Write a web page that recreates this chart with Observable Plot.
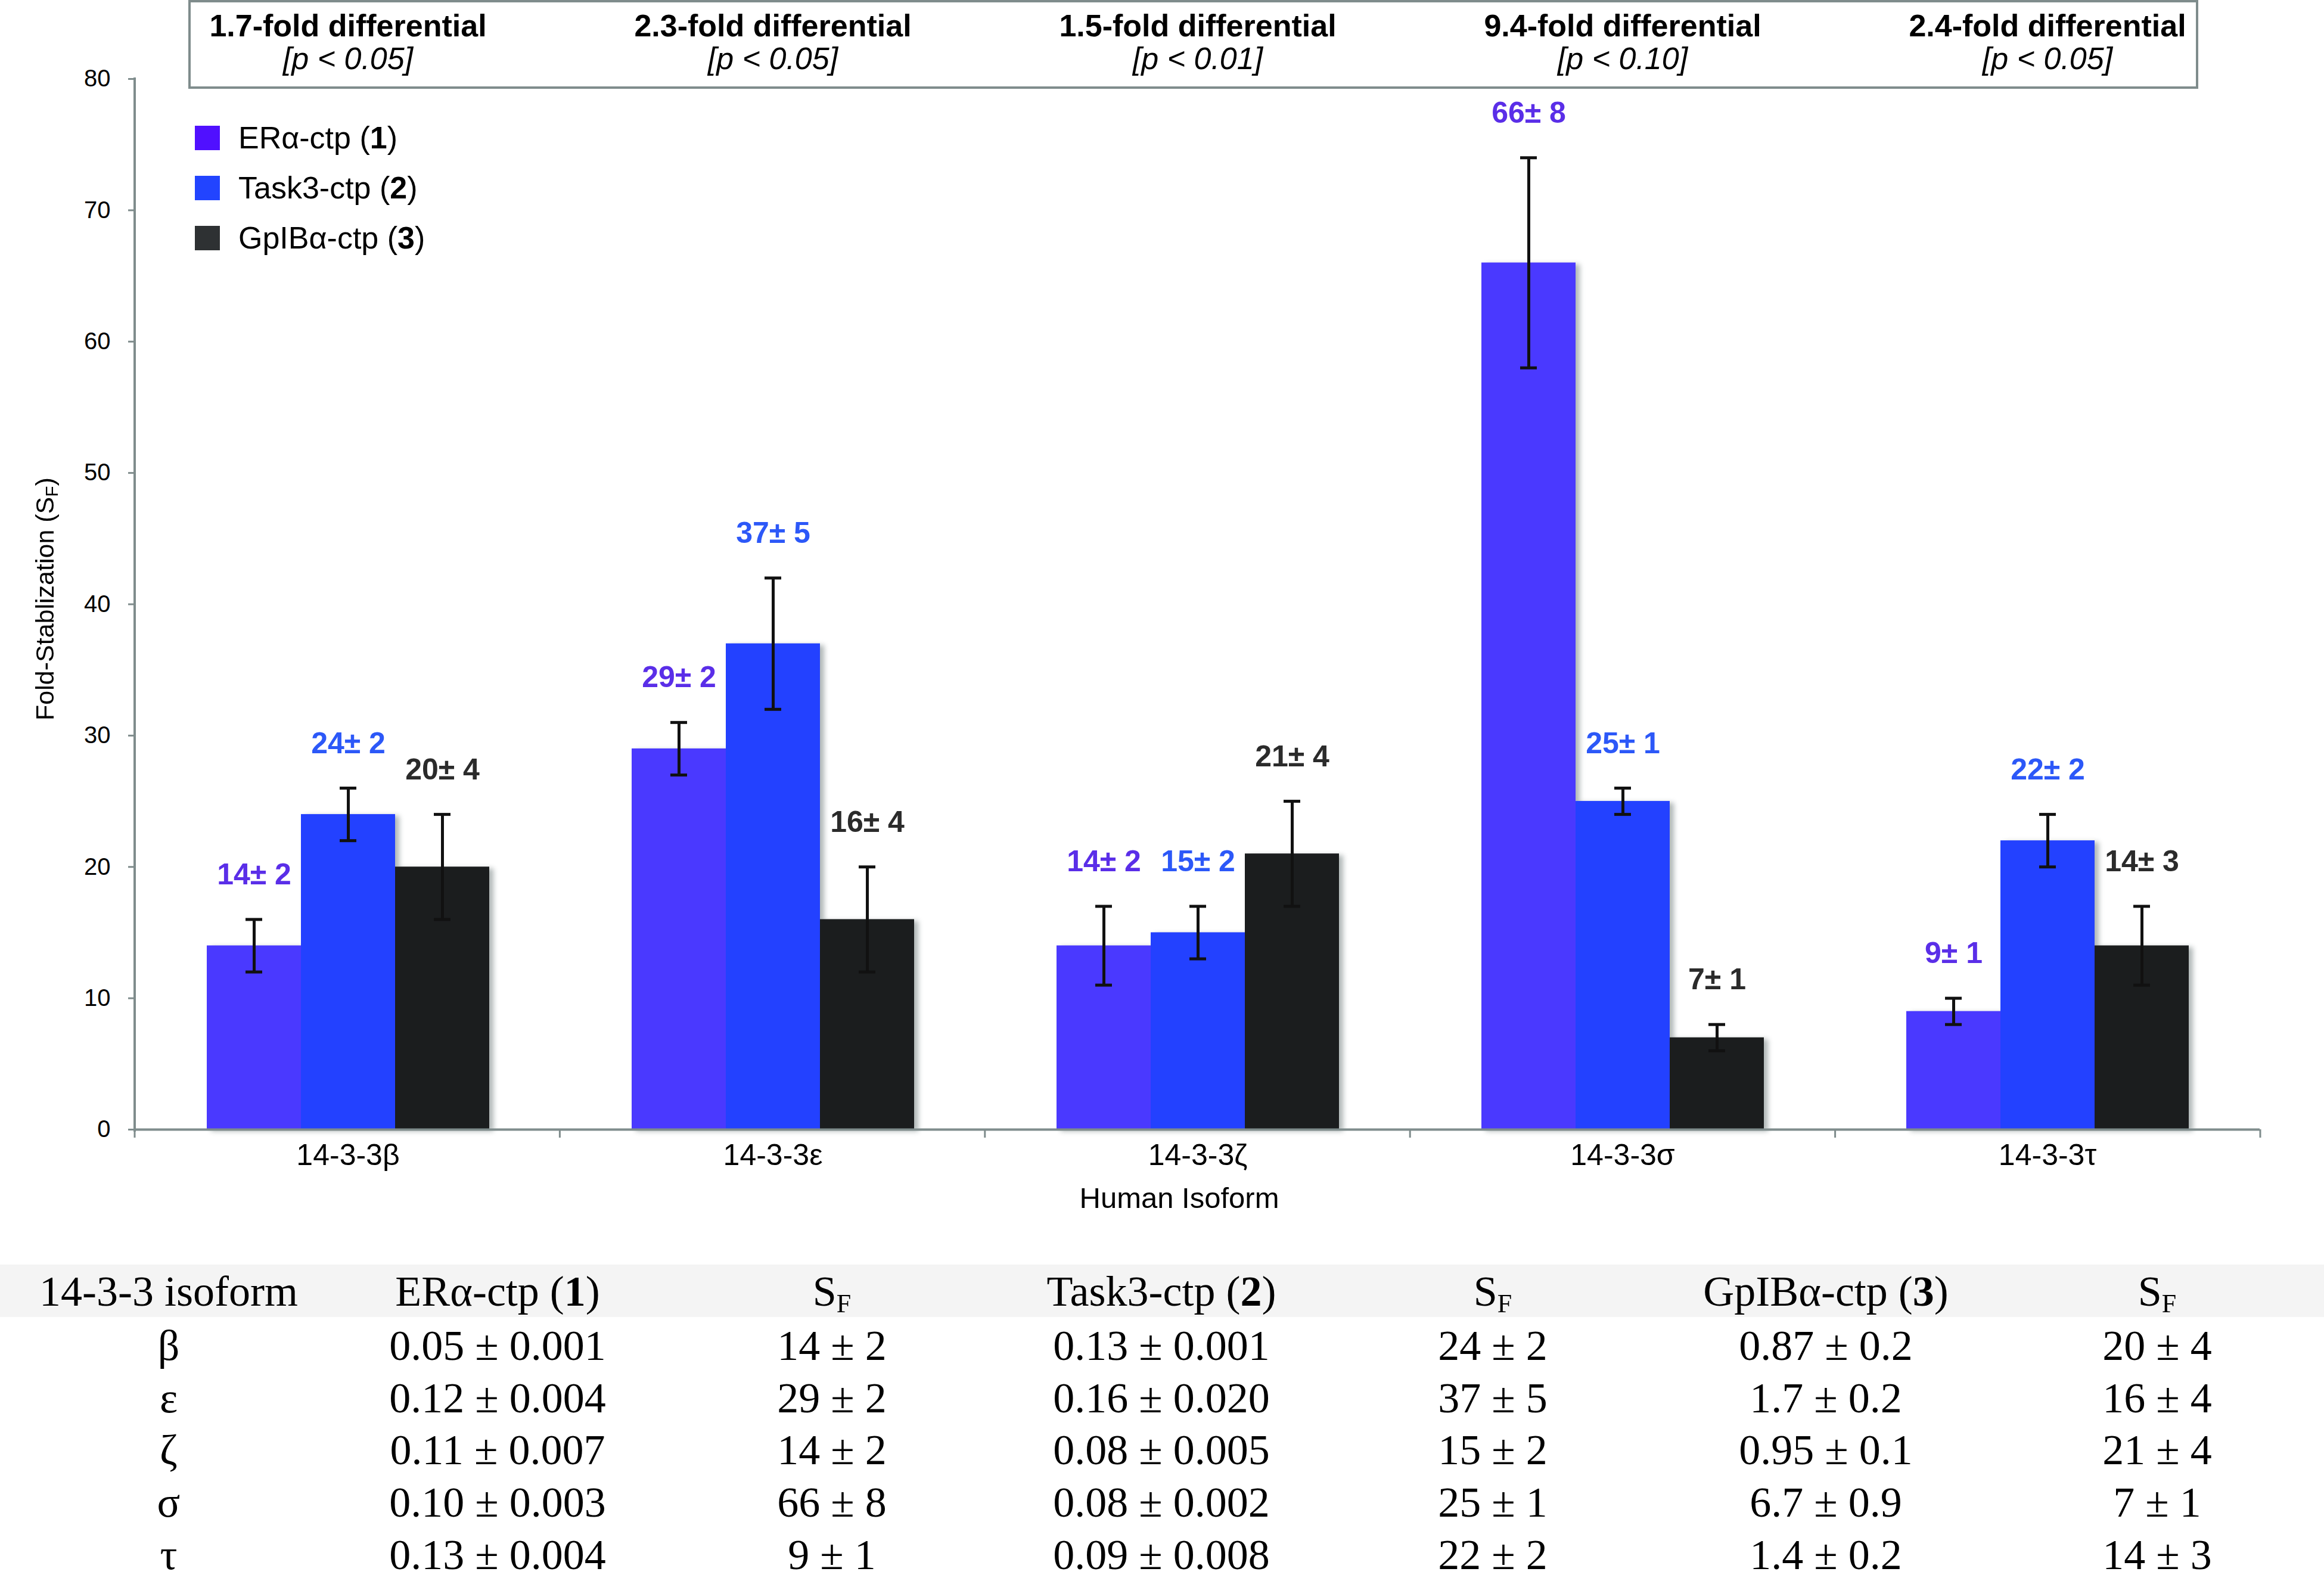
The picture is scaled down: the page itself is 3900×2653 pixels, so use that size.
<!DOCTYPE html>
<html><head><meta charset="utf-8">
<script src="https://cdn.jsdelivr.net/npm/d3@7"></script>
<script src="https://cdn.jsdelivr.net/npm/@observablehq/plot@0.6"></script>
<style>
html,body{margin:0;padding:0;background:#fff;}
#wrap{position:relative;width:3900px;height:2653px;overflow:hidden;background:#fff;}
#wrap > svg{position:absolute;left:0;top:0;}
g[aria-label="bar"]{filter: drop-shadow(7px 3px 4px rgba(80,95,95,0.45));}
</style></head><body><div id="wrap"></div>
<script>
// ---------- data ----------
const isoforms = ["14-3-3β", "14-3-3ε", "14-3-3ζ", "14-3-3σ", "14-3-3τ"];
const greek = ["β", "ε", "ζ", "σ", "τ"];
const series = ["ERα-ctp (1)", "Task3-ctp (2)", "GpIBα-ctp (3)"];
const seriesName = ["ERα-ctp", "Task3-ctp", "GpIBα-ctp"];
const seriesNum = ["1", "2", "3"];

const erValues = [14, 29, 14, 66, 9];
const erSd = [2, 2, 2, 8, 1];          // reported in labels / table
const erBar = [2, 2, 3, 8, 1];         // error bar half-length as drawn
const task3Values = [24, 37, 15, 25, 22];
const task3Sd = [2, 5, 2, 1, 2];
const task3Bar = [2, 5, 2, 1, 2];
const gpValues = [20, 16, 21, 7, 14];
const gpSd = [4, 4, 4, 1, 3];
const gpBar = [4, 4, 4, 1, 3];

const foldText = ["1.7-fold differential", "2.3-fold differential", "1.5-fold differential", "9.4-fold differential", "2.4-fold differential"];
const pText = ["[p < 0.05]", "[p < 0.05]", "[p < 0.01]", "[p < 0.10]", "[p < 0.05]"];

const erKd = ["0.05 ± 0.001", "0.12 ± 0.004", "0.11 ± 0.007", "0.10 ± 0.003", "0.13 ± 0.004"];
const task3Kd = ["0.13 ± 0.001", "0.16 ± 0.020", "0.08 ± 0.005", "0.08 ± 0.002", "0.09 ± 0.008"];
const gpKd = ["0.87 ± 0.2", "1.7 ± 0.2", "0.95 ± 0.1", "6.7 ± 0.9", "1.4 ± 0.2"];

const yTicks = [0, 10, 20, 30, 40, 50, 60, 70, 80];

// ---------- styles ----------
const barColors = ["#4a39ff", "#2341ff", "#1b1d1e"];
const legendColors = ["#5010ff", "#2244ff", "#2e3133"];
const labelColors = ["#5a2ee8", "#2c58f8", "#2b2b2b"];
const axisGray = "#7f8c8c";
const sans = "'Liberation Sans', Arial, Helvetica, sans-serif";
const serif = "'Liberation Serif', 'Times New Roman', Times, serif";

// ---------- build tables ----------
const valuesBy = [erValues, task3Values, gpValues];
const sdBy = [erSd, task3Sd, gpSd];
const barBy = [erBar, task3Bar, gpBar];
const rows = [];
isoforms.forEach((iso, i) => {
  series.forEach((s, j) => {
    rows.push({isoform: iso, series: s, si: j, value: valuesBy[j][i], bar: barBy[j][i],
      label: `${valuesBy[j][i]}± ${sdBy[j][i]}`});
  });
});
const headers = isoforms.map((iso, i) => ({isoform: iso, fold: foldText[i], p: pText[i]}));

const chart = Plot.plot({
  width: 3900,
  height: 2060,
  marginLeft: 226,
  marginRight: 107,
  marginTop: 132,
  marginBottom: 165,
  style: {fontFamily: sans, fontSize: "40px", color: "#000", background: "none", overflow: "visible"},
  fx: {domain: isoforms, padding: 0},
  x: {domain: series, paddingInner: 0, paddingOuter: 0.743, axis: null},
  y: {domain: [0, 80]},
  color: {domain: series, range: barColors},
  marks: [
    Plot.barY(rows, {fx: "isoform", x: "series", y: "value", fill: "series"}),
    Plot.ruleY([0], {stroke: axisGray, strokeWidth: 4}),
    Plot.ruleX(rows, {fx: "isoform", x: "series", y1: d => d.value - d.bar, y2: d => d.value + d.bar, stroke: "#111", strokeWidth: 5}),
    Plot.tickY(rows, {fx: "isoform", x: "series", y: d => d.value - d.bar, stroke: "#111", strokeWidth: 5, insetLeft: 65, insetRight: 65}),
    Plot.tickY(rows, {fx: "isoform", x: "series", y: d => d.value + d.bar, stroke: "#111", strokeWidth: 5, insetLeft: 65, insetRight: 65}),
    ...series.map((s, j) => Plot.text(rows.filter(d => d.si === j), {
      fx: "isoform", x: "series", y: d => d.value + d.bar, text: "label", dy: -75,
      fill: labelColors[j], fontSize: 50, fontWeight: "bold"})),
    Plot.text(headers, {fx: "isoform", text: "fold", frameAnchor: "top", lineAnchor: "middle", dy: -88, fontSize: 52, fontWeight: "bold", fill: "#000"}),
    Plot.text(headers, {fx: "isoform", text: "p", frameAnchor: "top", lineAnchor: "middle", dy: -33, fontSize: 52, fontStyle: "italic", fill: "#000"}),
    Plot.axisY({ticks: yTicks, tickSize: 12, tickPadding: 30, stroke: axisGray, strokeWidth: 3, fill: "#000", fontSize: 40, label: null}),
    Plot.axisFx({anchor: "bottom", tickSize: 0, tickPadding: 24, fontSize: 50, fill: "#000", label: null})
  ]
});
const wrap = document.getElementById("wrap");
wrap.appendChild(chart);

// ---------- overlay (axis line, separators, legend, header box, axis titles, table) ----------
const fxS = chart.scale("fx");
const yS = chart.scale("y");
const fxScale = d3.scaleBand().domain(fxS.domain).range(fxS.range).paddingInner(fxS.paddingInner || 0).paddingOuter(fxS.paddingOuter || 0);
const yScale = d3.scaleLinear().domain(yS.domain).range(yS.range);

const svg = d3.select(wrap).append("svg")
  .attr("width", 3900).attr("height", 2653)
  .style("font-family", sans);

// header box
svg.append("rect").attr("x", 318).attr("y", 2).attr("width", 3369).attr("height", 145)
  .attr("fill", "none").attr("stroke", axisGray).attr("stroke-width", 4);

// y axis line
const x0 = fxScale.range()[0];
svg.append("line").attr("x1", x0).attr("x2", x0).attr("y1", yScale(80) - 2).attr("y2", yScale(0) + 4)
  .attr("stroke", axisGray).attr("stroke-width", 4);
// category separators
const edges = fxScale.domain().map(d => fxScale(d)).concat([fxScale(fxScale.domain().at(-1)) + fxScale.bandwidth()]);
svg.selectAll("line.sep").data(edges).join("line").attr("class", "sep")
  .attr("x1", d => d).attr("x2", d => d).attr("y1", yScale(0)).attr("y2", yScale(0) + 14)
  .attr("stroke", axisGray).attr("stroke-width", 3);

// x axis title
svg.append("text").attr("x", 1979).attr("y", 2027).attr("text-anchor", "middle")
  .attr("font-size", 49).attr("fill", "#000").text("Human Isoform");

// y axis label
const yl = svg.append("text").attr("transform", "translate(90,1005) rotate(-90)")
  .attr("text-anchor", "middle").attr("font-size", 43).attr("fill", "#000");
yl.append("tspan").text("Fold-Stablization (S");
yl.append("tspan").attr("font-size", 30).attr("dy", 7).text("F");
yl.append("tspan").attr("dy", -7).text(")");

// legend
const legY = [232, 316, 400];
series.forEach((s, j) => {
  svg.append("rect").attr("x", 327).attr("y", legY[j] - 21).attr("width", 42).attr("height", 41).attr("fill", legendColors[j]);
  const t = svg.append("text").attr("x", 400).attr("y", legY[j] + 17).attr("font-size", 52).attr("fill", "#000");
  t.append("tspan").text(seriesName[j] + " (");
  t.append("tspan").attr("font-weight", "bold").text(seriesNum[j]);
  t.append("tspan").text(")");
});

// table
const tbl = svg.append("g").attr("font-family", serif).attr("font-size", 72).attr("fill", "#000").attr("text-anchor", "middle");
tbl.append("rect").attr("x", 0).attr("y", 2122).attr("width", 3900).attr("height", 88).attr("fill", "#f4f4f4");
const colX = [283, 835, 1396, 1949, 2505, 3064, 3620];
const headY = 2191;
const rowY = [2282, 2370, 2457, 2545, 2633];
tbl.append("text").attr("x", colX[0]).attr("y", headY).text("14-3-3 isoform");
function sfHeader(x) {
  const t = tbl.append("text").attr("x", x).attr("y", headY);
  t.append("tspan").text("S");
  t.append("tspan").attr("font-size", 44).attr("dy", 11).text("F");
}
function seriesHeader(x, j) {
  const t = tbl.append("text").attr("x", x).attr("y", headY);
  t.append("tspan").text(seriesName[j] + " (");
  t.append("tspan").attr("font-weight", "bold").text(seriesNum[j]);
  t.append("tspan").text(")");
}
seriesHeader(colX[1], 0); sfHeader(colX[2]);
seriesHeader(colX[3], 1); sfHeader(colX[4]);
seriesHeader(colX[5], 2); sfHeader(colX[6]);
const kdBy = [erKd, task3Kd, gpKd];
greek.forEach((g, i) => {
  tbl.append("text").attr("x", colX[0]).attr("y", rowY[i]).text(g);
  for (let j = 0; j < 3; j++) {
    tbl.append("text").attr("x", colX[1 + 2 * j]).attr("y", rowY[i]).text(kdBy[j][i]);
    tbl.append("text").attr("x", colX[2 + 2 * j]).attr("y", rowY[i]).text(`${valuesBy[j][i]} ± ${sdBy[j][i]}`);
  }
});
</script></body></html>
